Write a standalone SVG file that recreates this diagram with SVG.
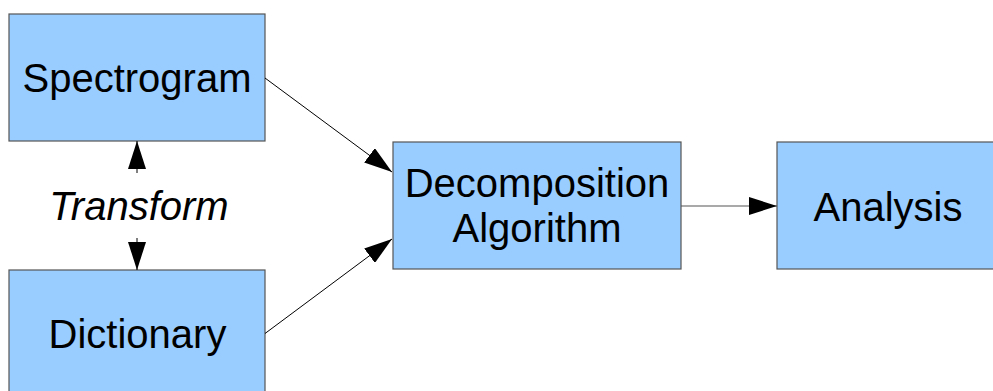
<svg xmlns="http://www.w3.org/2000/svg" width="993" height="391" viewBox="0 0 993 391">
<style>
.box{fill:#99ccff;stroke:#555555;stroke-width:1.2}
.lbl{font-family:"Liberation Sans",Arial,sans-serif;font-size:40px;fill:#000;text-anchor:middle}
.con{stroke:#000;stroke-width:1;fill:none;marker-end:url(#ah)}
.conh{stroke:#555555;stroke-width:1.2;fill:none;marker-end:url(#ah)}
</style>
<defs>
<marker id="ah" viewBox="0 0 28 18" refX="28" refY="9" markerWidth="28" markerHeight="18" markerUnits="userSpaceOnUse" orient="auto">
<path d="M0,0 L28,9 L0,18 Z" fill="#000"/>
</marker>
</defs>
<rect width="993" height="391" fill="#fff"/>
<g id="spectrogram">
<rect class="box" x="9" y="14" width="256" height="127"/>
<text class="lbl" x="137" y="92">Spectrogram</text>
</g>
<g id="dictionary">
<rect class="box" x="9" y="270" width="256" height="127"/>
<text class="lbl" x="137.5" y="348">Dictionary</text>
</g>
<g id="decomposition">
<rect class="box" x="393" y="142" width="288" height="127"/>
<text class="lbl" x="537" y="197">Decomposition</text>
<text class="lbl" x="537" y="242">Algorithm</text>
</g>
<g id="analysis">
<rect class="box" x="777" y="142" width="222" height="127"/>
<text class="lbl" x="888" y="221">Analysis</text>
</g>
<g id="connectors">
<line class="con" x1="265" y1="78" x2="392" y2="172"/>
<line class="con" x1="265" y1="333.5" x2="392" y2="239"/>
<line class="conh" x1="681" y1="206" x2="777" y2="206"/>
<line class="con" x1="137" y1="173" x2="137" y2="141"/>
<line class="con" x1="137" y1="238" x2="137" y2="270"/>
<text class="lbl" x="139" y="220" font-style="italic">Transform</text>
</g>
</svg>
